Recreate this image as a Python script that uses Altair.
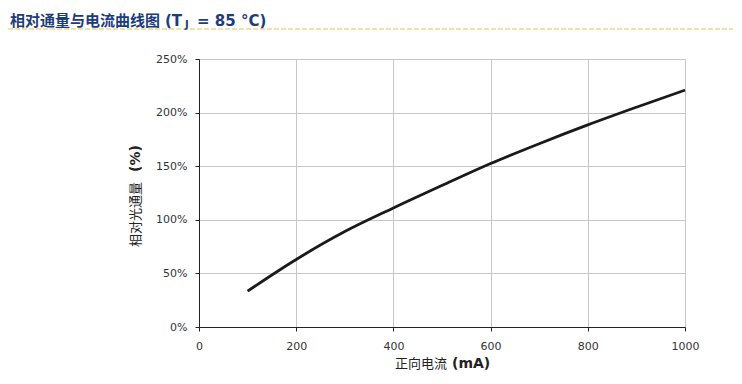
import altair as alt
import pandas as pd

# ---- data ----
current_ma = [100, 200, 300, 400, 500, 600, 700, 800, 900, 1000]
relative_flux_pct = [33.5, 63, 89, 111, 132, 152.5, 171, 188.5, 205, 221]
x_ticks = [0, 200, 400, 600, 800, 1000]
y_ticks = [0, 50, 100, 150, 200, 250]

title_cn = ["相对通量与电流曲线图"]
title_paren = ["(T"]
title_sub = ["J"]
title_tail = ["= 85 °C)"]
x_title_cn = ["正向电流"]
x_title_unit = ["(mA)"]
y_title_cn = ["相对光通量"]
y_title_unit = ["(%)"]

W, H = 486, 268
LATIN = "DejaVu Sans, Verdana, Noto Sans CJK SC"
CJK = "Noto Sans CJK SC, DejaVu Sans"
NAVY = "#1c3c7a"

df = pd.DataFrame({"current": current_ma, "flux": relative_flux_pct})

line = alt.Chart(df).mark_line(
    color="#1a1a1a", strokeWidth=2.8, interpolate="monotone"
).encode(
    x=alt.X(
        "current:Q",
        scale=alt.Scale(domain=[0, 1000], nice=False),
        axis=alt.Axis(
            values=x_ticks, title=None, grid=True, gridColor="#c6c6c6",
            domainColor="#222222", tickColor="#222222", tickSize=4,
            labelFont=LATIN, labelFontSize=11, labelColor="#333333",
            labelPadding=9, format="d", labelFlush=False,
        ),
    ),
    y=alt.Y(
        "flux:Q",
        scale=alt.Scale(domain=[0, 250], nice=False),
        axis=alt.Axis(
            values=y_ticks, title=None, grid=True, gridColor="#c6c6c6",
            domainColor="#222222", tickColor="#222222", tickSize=4,
            labelFont=LATIN, labelFontSize=11, labelColor="#333333",
            labelPadding=8, labelExpr="datum.value + '%'", labelFlush=False,
        ),
    ),
)


def txt(values, x, y, size, bold=False, color="#222222", font=LATIN,
        align="left", angle=0, baseline="middle"):
    d = pd.DataFrame({"t": values})
    kw = dict(align=align, baseline=baseline, fontSize=size, color=color,
              font=font, fontWeight="bold" if bold else "normal")
    if angle:
        kw["angle"] = angle
    return alt.Chart(d).mark_text(**kw).encode(
        x=alt.value(x), y=alt.value(y), text="t:N"
    )


# page coords -> plot coords: x - 199, y - 59
t1 = txt(title_cn, -189, -45, 15, bold=True, color=NAVY, font=CJK, baseline="top")
t2 = txt(title_paren, -34, -45, 15, bold=True, color=NAVY, baseline="top")
t3 = txt(title_sub, -14, -39, 10, bold=True, color=NAVY, baseline="top")
t4 = txt(title_tail, -2, -45, 15, bold=True, color=NAVY, baseline="top")

dash = alt.Chart(pd.DataFrame({"k": [0]})).mark_rule(
    color="#e2c25a", strokeWidth=1, strokeDash=[5, 2]
).encode(x=alt.value(-191), x2=alt.value(534), y=alt.value(-30))

xt1 = txt(x_title_cn, 248, 305, 13, font=CJK, align="right")
xt2 = txt(x_title_unit, 253, 305, 14, bold=True)
yt1 = txt(y_title_cn, -63, 188, 13, font=CJK, angle=270)
yt2 = txt(y_title_unit, -63, 113, 14, bold=True, angle=270)

chart = alt.layer(line, dash, t1, t2, t3, t4, xt1, xt2, yt1, yt2).properties(
    width=W, height=H,
    padding={"left": 191, "top": 51, "right": 48, "bottom": 46},
    autosize=alt.AutoSizeParams(type="none"),
).configure_view(stroke=None).configure(background="white")

chart.save("out.html", embed_options={"renderer": "svg", "actions": False})
